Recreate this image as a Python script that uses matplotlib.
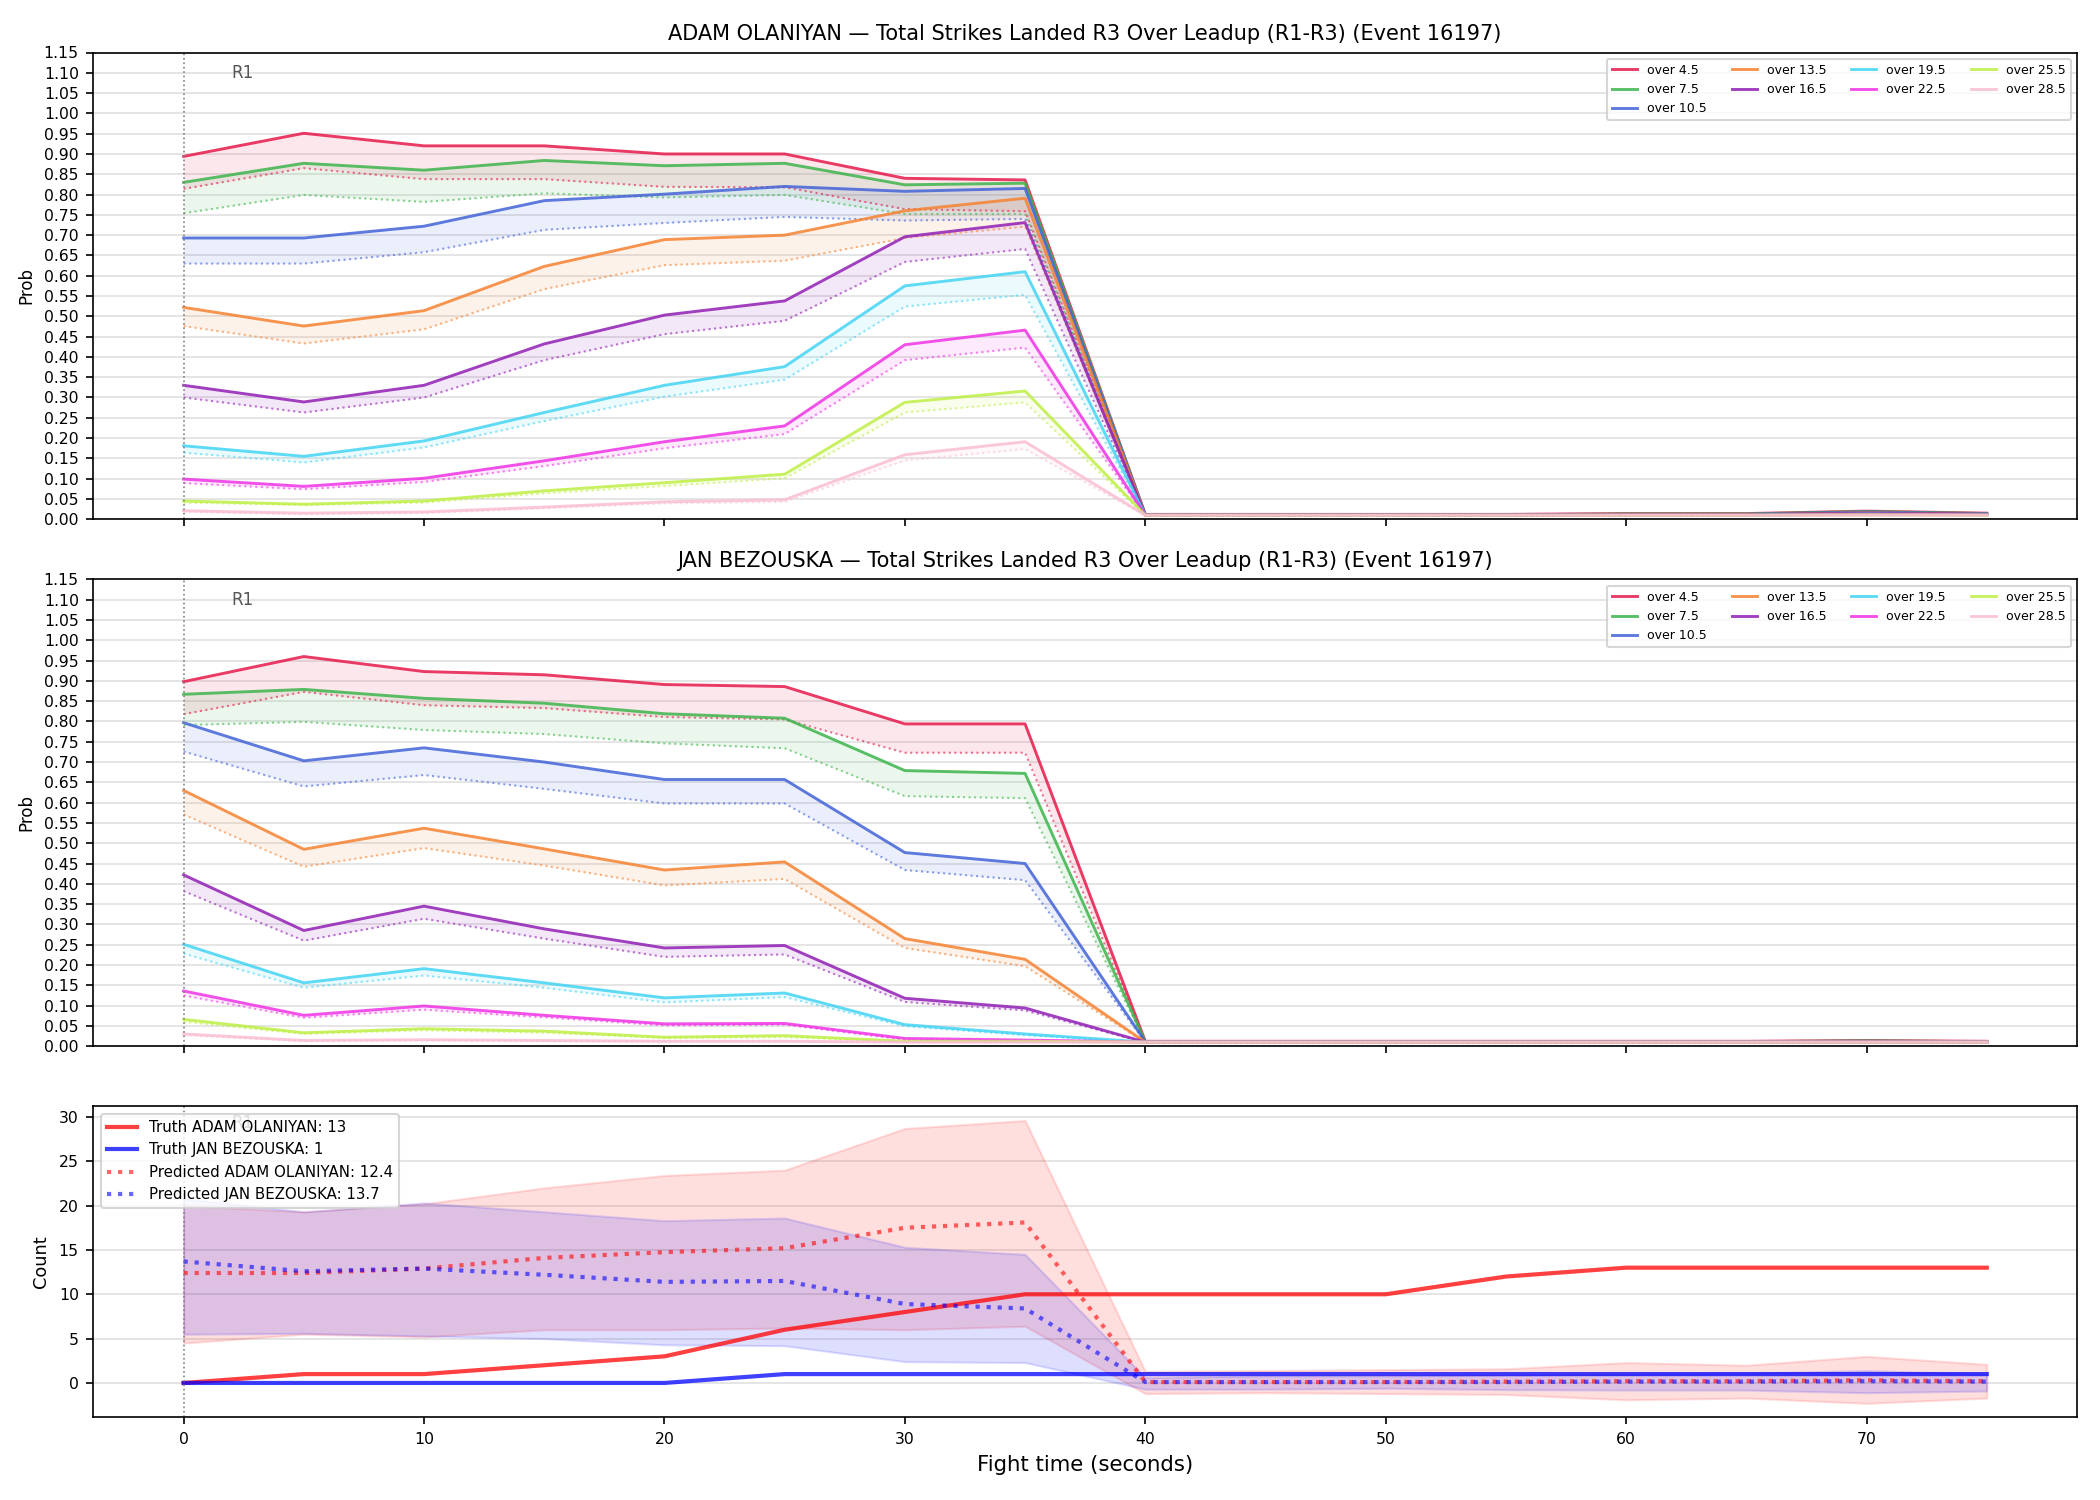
import matplotlib
matplotlib.use("Agg")
import matplotlib.pyplot as plt
import matplotlib.transforms as mtransforms

# ---------------- data ----------------
time_s = [0, 5, 10, 15, 20, 25, 30, 35, 40, 45, 50, 55, 60, 65, 70, 75]
thresholds = ["over 4.5", "over 7.5", "over 10.5", "over 13.5",
              "over 16.5", "over 19.5", "over 22.5", "over 25.5", "over 28.5"]
colors = ["#e6194B", "#3cb44b", "#4363d8", "#f58231", "#911eb4",
          "#42d4f4", "#f032e6", "#bfef45", "#fabed4"]

# ADAM OLANIYAN - solid lines
adam_o45 = [0.894, 0.951, 0.920, 0.920, 0.900, 0.900, 0.840, 0.836, 0.012, 0.012, 0.012, 0.012, 0.014, 0.014, 0.020, 0.015]
adam_o75 = [0.830, 0.877, 0.860, 0.884, 0.871, 0.877, 0.824, 0.828, 0.011, 0.011, 0.011, 0.011, 0.013, 0.013, 0.019, 0.014]
adam_o105 = [0.693, 0.693, 0.722, 0.785, 0.801, 0.820, 0.808, 0.815, 0.011, 0.011, 0.011, 0.011, 0.012, 0.012, 0.018, 0.013]
adam_o135 = [0.522, 0.476, 0.514, 0.623, 0.689, 0.700, 0.760, 0.791, 0.010, 0.010, 0.010, 0.010, 0.011, 0.011, 0.016, 0.012]
adam_o165 = [0.330, 0.289, 0.330, 0.432, 0.503, 0.538, 0.696, 0.731, 0.010, 0.010, 0.010, 0.010, 0.011, 0.011, 0.015, 0.012]
adam_o195 = [0.181, 0.155, 0.193, 0.263, 0.330, 0.376, 0.575, 0.610, 0.010, 0.010, 0.010, 0.010, 0.010, 0.010, 0.013, 0.011]
adam_o225 = [0.099, 0.081, 0.101, 0.144, 0.191, 0.230, 0.430, 0.466, 0.010, 0.010, 0.010, 0.010, 0.010, 0.010, 0.012, 0.011]
adam_o255 = [0.045, 0.037, 0.045, 0.070, 0.090, 0.111, 0.288, 0.316, 0.010, 0.010, 0.010, 0.010, 0.010, 0.010, 0.011, 0.010]
adam_o285 = [0.021, 0.015, 0.018, 0.030, 0.043, 0.048, 0.159, 0.191, 0.010, 0.010, 0.010, 0.010, 0.010, 0.010, 0.010, 0.010]

# ADAM OLANIYAN - dotted lines
adam_o45_dot = [0.814, 0.865, 0.838, 0.838, 0.819, 0.818, 0.764, 0.759, 0.010, 0.010, 0.010, 0.010, 0.012, 0.012, 0.017, 0.013]
adam_o75_dot = [0.754, 0.799, 0.782, 0.803, 0.793, 0.799, 0.752, 0.752, 0.010, 0.010, 0.010, 0.010, 0.011, 0.011, 0.016, 0.012]
adam_o105_dot = [0.630, 0.630, 0.658, 0.713, 0.730, 0.745, 0.736, 0.740, 0.010, 0.010, 0.010, 0.010, 0.011, 0.011, 0.015, 0.012]
adam_o135_dot = [0.476, 0.433, 0.468, 0.567, 0.626, 0.637, 0.693, 0.721, 0.009, 0.009, 0.009, 0.009, 0.010, 0.010, 0.014, 0.011]
adam_o165_dot = [0.300, 0.263, 0.300, 0.392, 0.456, 0.489, 0.634, 0.666, 0.009, 0.009, 0.009, 0.009, 0.010, 0.010, 0.013, 0.011]
adam_o195_dot = [0.164, 0.140, 0.177, 0.242, 0.302, 0.344, 0.524, 0.553, 0.009, 0.009, 0.009, 0.009, 0.009, 0.009, 0.012, 0.010]
adam_o225_dot = [0.089, 0.074, 0.092, 0.131, 0.175, 0.210, 0.392, 0.423, 0.009, 0.009, 0.009, 0.009, 0.009, 0.009, 0.011, 0.010]
adam_o255_dot = [0.041, 0.035, 0.041, 0.064, 0.082, 0.101, 0.263, 0.288, 0.009, 0.009, 0.009, 0.009, 0.009, 0.009, 0.010, 0.009]
adam_o285_dot = [0.018, 0.012, 0.015, 0.027, 0.039, 0.043, 0.145, 0.173, 0.009, 0.009, 0.009, 0.009, 0.009, 0.009, 0.009, 0.009]

# JAN BEZOUSKA - solid lines
jan_o45 = [0.898, 0.960, 0.923, 0.915, 0.891, 0.886, 0.794, 0.794, 0.012, 0.012, 0.012, 0.012, 0.012, 0.012, 0.014, 0.012]
jan_o75 = [0.867, 0.879, 0.857, 0.845, 0.819, 0.808, 0.679, 0.672, 0.011, 0.011, 0.011, 0.011, 0.011, 0.011, 0.013, 0.011]
jan_o105 = [0.797, 0.703, 0.735, 0.700, 0.657, 0.657, 0.477, 0.450, 0.011, 0.011, 0.011, 0.011, 0.011, 0.011, 0.012, 0.011]
jan_o135 = [0.630, 0.485, 0.537, 0.486, 0.434, 0.454, 0.265, 0.214, 0.010, 0.010, 0.010, 0.010, 0.010, 0.010, 0.011, 0.010]
jan_o165 = [0.422, 0.285, 0.345, 0.289, 0.242, 0.248, 0.118, 0.094, 0.010, 0.010, 0.010, 0.010, 0.010, 0.010, 0.011, 0.010]
jan_o195 = [0.251, 0.156, 0.191, 0.156, 0.119, 0.131, 0.053, 0.030, 0.010, 0.010, 0.010, 0.010, 0.010, 0.010, 0.010, 0.010]
jan_o225 = [0.136, 0.076, 0.099, 0.076, 0.055, 0.056, 0.019, 0.015, 0.010, 0.010, 0.010, 0.010, 0.010, 0.010, 0.010, 0.010]
jan_o255 = [0.066, 0.033, 0.043, 0.037, 0.022, 0.026, 0.012, 0.012, 0.010, 0.010, 0.010, 0.010, 0.010, 0.010, 0.010, 0.010]
jan_o285 = [0.030, 0.014, 0.016, 0.014, 0.012, 0.012, 0.010, 0.010, 0.010, 0.010, 0.010, 0.010, 0.010, 0.010, 0.010, 0.010]

# JAN BEZOUSKA - dotted lines
jan_o45_dot = [0.818, 0.873, 0.840, 0.833, 0.811, 0.805, 0.723, 0.723, 0.010, 0.010, 0.010, 0.010, 0.010, 0.010, 0.012, 0.010]
jan_o75_dot = [0.791, 0.799, 0.779, 0.769, 0.746, 0.734, 0.616, 0.611, 0.010, 0.010, 0.010, 0.010, 0.010, 0.010, 0.011, 0.010]
jan_o105_dot = [0.726, 0.640, 0.668, 0.634, 0.598, 0.598, 0.434, 0.409, 0.010, 0.010, 0.010, 0.010, 0.010, 0.010, 0.011, 0.010]
jan_o135_dot = [0.571, 0.442, 0.488, 0.445, 0.396, 0.412, 0.242, 0.197, 0.009, 0.009, 0.009, 0.009, 0.009, 0.009, 0.010, 0.009]
jan_o165_dot = [0.382, 0.260, 0.314, 0.265, 0.220, 0.226, 0.109, 0.088, 0.009, 0.009, 0.009, 0.009, 0.009, 0.009, 0.010, 0.009]
jan_o195_dot = [0.228, 0.144, 0.174, 0.144, 0.108, 0.121, 0.049, 0.027, 0.009, 0.009, 0.009, 0.009, 0.009, 0.009, 0.009, 0.009]
jan_o225_dot = [0.125, 0.070, 0.090, 0.071, 0.051, 0.053, 0.016, 0.013, 0.009, 0.009, 0.009, 0.009, 0.009, 0.009, 0.009, 0.009]
jan_o255_dot = [0.060, 0.030, 0.039, 0.033, 0.020, 0.022, 0.011, 0.010, 0.009, 0.009, 0.009, 0.009, 0.009, 0.009, 0.009, 0.009]
jan_o285_dot = [0.027, 0.012, 0.014, 0.012, 0.011, 0.011, 0.009, 0.009, 0.009, 0.009, 0.009, 0.009, 0.009, 0.009, 0.009, 0.009]

# Count panel
truth_adam = [0, 1, 1, 2, 3, 6, 8, 10, 10, 10, 10, 12, 13, 13, 13, 13]
truth_jan = [0, 0, 0, 0, 0, 1, 1, 1, 1, 1, 1, 1, 1, 1, 1, 1]
pred_adam = [12.4, 12.4, 12.9, 14.1, 14.75, 15.2, 17.5, 18.1, 0.1, 0.1, 0.1, 0.15, 0.2, 0.2, 0.3, 0.2]
pred_jan = [13.7, 12.6, 12.9, 12.2, 11.4, 11.5, 8.9, 8.4, 0.1, 0.1, 0.1, 0.1, 0.15, 0.15, 0.2, 0.15]
pred_adam_hi = [20.0, 19.3, 20.2, 22.0, 23.4, 24.0, 28.7, 29.6, 1.3, 1.4, 1.5, 1.6, 2.3, 2.0, 3.0, 2.1]
pred_adam_lo = [4.5, 5.5, 5.2, 6.0, 6.0, 6.2, 6.0, 6.4, -1.2, -1.1, -1.2, -1.3, -1.9, -1.7, -2.3, -1.7]
pred_jan_hi = [20.8, 19.3, 20.3, 19.3, 18.3, 18.6, 15.3, 14.5, 0.6, 0.8, 0.8, 0.9, 1.0, 1.1, 1.4, 1.0]
pred_jan_lo = [5.5, 5.6, 5.3, 5.0, 4.3, 4.2, 2.4, 2.3, -0.7, -0.7, -0.6, -0.75, -0.8, -0.8, -1.1, -0.9]

adam_name = "ADAM OLANIYAN"
jan_name = "JAN BEZOUSKA"
title_suffix = " \u2014 Total Strikes Landed R3 Over Leadup (R1-R3) (Event 16197)"
round_marks = [0]
round_labels = ["R1"]

adam_solid = [adam_o45, adam_o75, adam_o105, adam_o135, adam_o165, adam_o195, adam_o225, adam_o255, adam_o285]
adam_dot = [adam_o45_dot, adam_o75_dot, adam_o105_dot, adam_o135_dot, adam_o165_dot, adam_o195_dot, adam_o225_dot, adam_o255_dot, adam_o285_dot]
jan_solid = [jan_o45, jan_o75, jan_o105, jan_o135, jan_o165, jan_o195, jan_o225, jan_o255, jan_o285]
jan_dot = [jan_o45_dot, jan_o75_dot, jan_o105_dot, jan_o135_dot, jan_o165_dot, jan_o195_dot, jan_o225_dot, jan_o255_dot, jan_o285_dot]

# ---------------- plot ----------------
fig, axes = plt.subplots(3, 1, figsize=(14, 10), dpi=150, sharex=True,
                         gridspec_kw={"height_ratios": [3, 3, 2]})
fig.subplots_adjust(left=0.0445, right=0.989, top=0.965, bottom=0.055, hspace=0.145)


def add_rounds(ax):
    trans = mtransforms.blended_transform_factory(ax.transData, ax.transAxes)
    for t, lab in zip(round_marks, round_labels):
        ax.axvline(t, color="gray", linestyle=":", linewidth=0.8)
        ax.text(t + 2, 0.975, lab, transform=trans, va="top", ha="left",
                fontsize=8, color="#555555", zorder=1)


def prob_panel(ax, name, solid, dot):
    for lab, col, s, d in zip(thresholds, colors, solid, dot):
        ax.plot(time_s, s, color=col, lw=1.4, alpha=0.85, label=lab)
        ax.plot(time_s, d, color=col, lw=1.0, alpha=0.6, linestyle=":")
        ax.fill_between(time_s, s, d, color=col, alpha=0.1, linewidth=0)
    ax.set_ylim(0, 1.15)
    ax.set_yticks([i * 0.05 for i in range(24)])
    ax.set_yticklabels([f"{i * 0.05:.2f}" for i in range(24)])
    ax.set_ylabel("Prob", fontsize=8)
    ax.set_title(name + title_suffix, fontsize=10)
    ax.grid(True, axis="y", color="#e0e0e0", linewidth=0.8)
    ax.set_axisbelow(True)
    ax.tick_params(labelsize=7.5)
    add_rounds(ax)
    ax.legend(loc="upper right", ncol=4, fontsize=6, framealpha=0.8)


prob_panel(axes[0], adam_name, adam_solid, adam_dot)
prob_panel(axes[1], jan_name, jan_solid, jan_dot)

ax = axes[2]
ax.fill_between(time_s, pred_adam_lo, pred_adam_hi, color="red", alpha=0.13, linewidth=1, edgecolor=(1, 0, 0, 0.13))
ax.fill_between(time_s, pred_jan_lo, pred_jan_hi, color="blue", alpha=0.13, linewidth=1, edgecolor=(0, 0, 1, 0.13))
ax.plot(time_s, truth_adam, color="red", lw=2, alpha=0.75, label=f"Truth {adam_name}: {truth_adam[-1]}")
ax.plot(time_s, truth_jan, color="blue", lw=2, alpha=0.75, label=f"Truth {jan_name}: {truth_jan[-1]}")
ax.plot(time_s, pred_adam, color="red", lw=2, alpha=0.6, linestyle=":", label=f"Predicted {adam_name}: {pred_adam[0]}")
ax.plot(time_s, pred_jan, color="blue", lw=2, alpha=0.6, linestyle=":", label=f"Predicted {jan_name}: {pred_jan[0]}")
ax.set_ylabel("Count", fontsize=8.5)
ax.set_xlabel("Fight time (seconds)", fontsize=10.2)
ax.grid(True, axis="y", color="#e0e0e0", linewidth=0.8)
ax.set_axisbelow(True)
ax.tick_params(labelsize=7.5)
add_rounds(ax)
leg = ax.legend(loc="upper left", fontsize=7.2, framealpha=0.8)
leg.set_zorder(5)

fig.savefig("out.png", dpi=150)
